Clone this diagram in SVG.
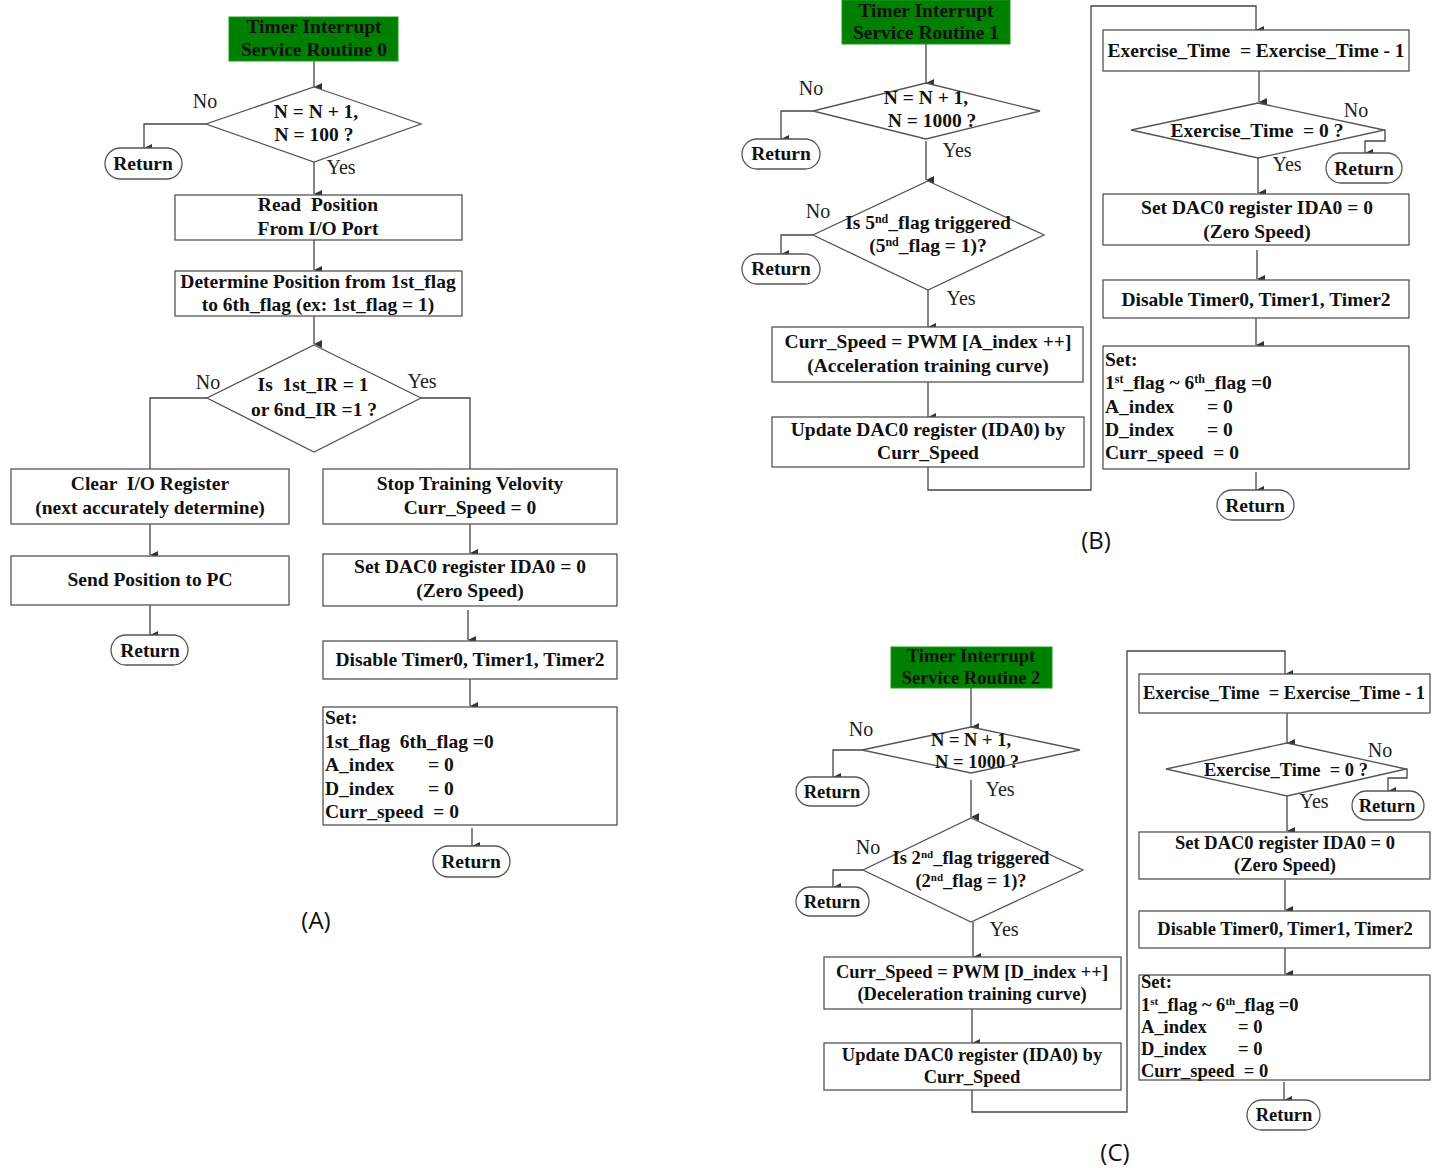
<svg xmlns="http://www.w3.org/2000/svg" width="1437" height="1168" viewBox="0 0 1437 1168">
<style>
.t{font-family:"Liberation Serif",serif;font-weight:bold;fill:#111;text-anchor:middle;font-size:19.5px;white-space:pre}
.c{font-size:18.5px}
.lt{text-anchor:start}
.n{font-family:"Liberation Serif",serif;font-weight:normal;fill:#222;font-size:20px;text-anchor:middle}
.cap{font-family:"Open Sans","Liberation Sans",sans-serif;font-size:24px;fill:#111;text-anchor:middle}
.box{fill:#fff;stroke:#555;stroke-width:1.3}
.grn{fill:#008000;stroke:#1a9a1a;stroke-width:1}
.ln{fill:none;stroke:#444;stroke-width:1.3}
.ar{fill:none;stroke:#444;stroke-width:1.3;marker-end:url(#ah)}
</style>
<defs>
<marker id="ah" markerUnits="userSpaceOnUse" markerWidth="8" markerHeight="8" refX="3.5" refY="7" orient="auto-start-reverse" viewBox="0 0 7 7">
<path d="M0,0 L7,0 L3.5,7 Z" fill="#333"/>
</marker>
</defs>
<rect width="1437" height="1168" fill="#fff"/>

<!-- connectors -->
<g id="connectors">
<!-- A -->
<path class="ar" d="M314,61 V87"/>
<path class="ar" d="M206,124 H144 V148"/>
<path class="ar" d="M314,162 V194"/>
<path class="ar" d="M314,240 V270"/>
<path class="ar" d="M314,316 V344"/>
<path class="ln" d="M207,398 H150 V469"/>
<path class="ln" d="M421,398 H470 V469"/>
<path class="ar" d="M150,524 V555"/>
<path class="ar" d="M150,605 V635"/>
<path class="ar" d="M470,524 V553"/>
<path class="ar" d="M468,610 V640"/>
<path class="ar" d="M470,679 V706"/>
<path class="ar" d="M472,828 V846"/>
<!-- B -->
<path class="ar" d="M926,44 V83"/>
<path class="ar" d="M813,111 H781 V139"/>
<path class="ar" d="M926,141 V180"/>
<path class="ar" d="M813,235 H781 V254"/>
<path class="ar" d="M928,290 V327"/>
<path class="ar" d="M928,382 V417"/>
<path class="ar" d="M928,467 V490 H1091 V6 H1256 V30"/>
<path class="ar" d="M1259,71 V102"/>
<path class="ar" d="M1384,130 H1385 V141 H1365 V153"/>
<path class="ar" d="M1258,158 V193"/>
<path class="ar" d="M1257,250 V279"/>
<path class="ar" d="M1256,318 V345"/>
<path class="ar" d="M1256,472 V490"/>
<!-- C -->
<path class="ar" d="M971,688 V727"/>
<path class="ar" d="M862,750 H833 V777"/>
<path class="ar" d="M971,780 V817"/>
<path class="ar" d="M863,870 H833 V887"/>
<path class="ar" d="M973,922 V957"/>
<path class="ar" d="M972,1009 V1043"/>
<path class="ar" d="M972,1090 V1112 H1127 V651 H1285 V674"/>
<path class="ar" d="M1287,713 V743"/>
<path class="ar" d="M1406,769 H1407 V778 H1388 V791"/>
<path class="ar" d="M1287,796 V831"/>
<path class="ar" d="M1285,880 V910"/>
<path class="ar" d="M1285,948 V974"/>
<path class="ar" d="M1284,1082 V1100"/>
</g>

<!-- Panel A -->
<g id="a-start"><rect class="grn" x="229" y="17" width="169" height="44"/><text class="t" x="314" y="33">Timer Interrupt</text><text class="t" x="314" y="56">Service Routine 0</text></g>
<g id="a-d1"><polygon class="box" points="314,87 421,124 314,162 206,124"/><text class="t" x="316" y="118">N = N + 1,</text><text class="t" x="314" y="141">N = 100 ?</text></g>
<text class="n" x="205" y="108">No</text>
<text class="n" x="341" y="174">Yes</text>
<g id="a-ret1"><rect class="box" x="105" y="148" width="77" height="31" rx="15.5"/><text class="t" x="143" y="170">Return</text></g>
<g id="a-read"><rect class="box" x="175" y="195" width="287" height="45"/><text class="t" x="318" y="211">Read  Position</text><text class="t" x="318" y="235">From I/O Port</text></g>
<g id="a-det"><rect class="box" x="175" y="271" width="287" height="45"/><text class="t" x="318" y="288">Determine Position from 1st_flag</text><text class="t" x="318" y="311">to 6th_flag (ex: 1st_flag = 1)</text></g>
<g id="a-d2"><polygon class="box" points="314,345 421,398 314,452 207,398"/><text class="t" x="313" y="391">Is  1st_IR = 1</text><text class="t" x="314" y="416">or 6nd_IR =1 ?</text></g>
<text class="n" x="208" y="389">No</text>
<text class="n" x="422" y="388">Yes</text>
<g id="a-clear"><rect class="box" x="11" y="469" width="278" height="55"/><text class="t" x="150" y="490">Clear  I/O Register</text><text class="t" x="150" y="514">(next accurately determine)</text></g>
<g id="a-send"><rect class="box" x="11" y="556" width="278" height="49"/><text class="t" x="150" y="586">Send Position to PC</text></g>
<g id="a-ret2"><rect class="box" x="111" y="635" width="77" height="30" rx="15"/><text class="t" x="150" y="657">Return</text></g>
<g id="a-stop"><rect class="box" x="323" y="469" width="294" height="55"/><text class="t" x="470" y="490">Stop Training Velovity</text><text class="t" x="470" y="514">Curr_Speed = 0</text></g>
<g id="a-dac"><rect class="box" x="323" y="554" width="294" height="52"/><text class="t" x="470" y="573">Set DAC0 register IDA0 = 0</text><text class="t" x="470" y="597">(Zero Speed)</text></g>
<g id="a-dis"><rect class="box" x="323" y="641" width="294" height="38"/><text class="t" x="470" y="666">Disable Timer0, Timer1, Timer2</text></g>
<g id="a-set"><rect class="box" x="323" y="707" width="294" height="118"/>
<text class="t lt" x="325" y="724">Set:</text>
<text class="t lt" x="325" y="748">1st_flag  6th_flag =0</text>
<text class="t lt" x="325" y="771">A_index<tspan x="428">= 0</tspan></text>
<text class="t lt" x="325" y="795">D_index<tspan x="428">= 0</tspan></text>
<text class="t lt" x="325" y="818">Curr_speed  = 0</text></g>
<g id="a-ret3"><rect class="box" x="433" y="846" width="77" height="31" rx="15.5"/><text class="t" x="471" y="868">Return</text></g>
<text class="cap" x="316" y="929">(A)</text>

<!-- Panel B -->
<g id="b-start"><rect class="grn" x="842" y="0" width="168" height="44"/><text class="t" x="926" y="17">Timer Interrupt</text><text class="t" x="926" y="39">Service Routine 1</text></g>
<g id="b-d1"><polygon class="box" points="926,83 1040,111 926,139 813,111"/><text class="t" x="926" y="104">N = N + 1,</text><text class="t" x="932" y="127">N = 1000 ?</text></g>
<text class="n" x="811" y="95">No</text>
<text class="n" x="957" y="157">Yes</text>
<g id="b-ret1"><rect class="box" x="742" y="139" width="78" height="30" rx="15"/><text class="t" x="781" y="160">Return</text></g>
<g id="b-d2"><polygon class="box" points="928,181 1044,235 928,290 813,235"/><text class="t" x="928" y="229">Is 5<tspan dy="-6" font-size="12">nd</tspan><tspan dy="6">_flag triggered</tspan></text><text class="t" x="928" y="252">(5<tspan dy="-6" font-size="12">nd</tspan><tspan dy="6">_flag = 1)?</tspan></text></g>
<text class="n" x="818" y="218">No</text>
<text class="n" x="961" y="305">Yes</text>
<g id="b-ret2"><rect class="box" x="742" y="254" width="78" height="30" rx="15"/><text class="t" x="781" y="275">Return</text></g>
<g id="b-curr"><rect class="box" x="772" y="327" width="311" height="55"/><text class="t" x="928" y="348">Curr_Speed = PWM [A_index ++]</text><text class="t" x="928" y="372">(Acceleration training curve)</text></g>
<g id="b-upd"><rect class="box" x="772" y="417" width="312" height="50"/><text class="t" x="928" y="436">Update DAC0 register (IDA0) by</text><text class="t" x="928" y="459">Curr_Speed</text></g>
<g id="b-ex"><rect class="box" x="1103" y="30" width="306" height="41"/><text class="t" x="1256" y="57">Exercise_Time  = Exercise_Time - 1</text></g>
<g id="b-d3"><polygon class="box" points="1258,103 1384,130 1258,158 1131,130"/><text class="t" x="1257" y="137">Exercise_Time  = 0 ?</text></g>
<text class="n" x="1356" y="117">No</text>
<text class="n" x="1287" y="171">Yes</text>
<g id="b-ret3"><rect class="box" x="1326" y="153" width="76" height="30" rx="15"/><text class="t" x="1364" y="175">Return</text></g>
<g id="b-dac"><rect class="box" x="1103" y="194" width="306" height="51"/><text class="t" x="1257" y="214">Set DAC0 register IDA0 = 0</text><text class="t" x="1257" y="238">(Zero Speed)</text></g>
<g id="b-dis"><rect class="box" x="1103" y="280" width="306" height="38"/><text class="t" x="1256" y="306">Disable Timer0, Timer1, Timer2</text></g>
<g id="b-set"><rect class="box" x="1103" y="346" width="306" height="123"/>
<text class="t lt" x="1105" y="366">Set:</text>
<text class="t lt" x="1105" y="389">1<tspan dy="-6" font-size="12">st</tspan><tspan dy="6">_flag ~ 6</tspan><tspan dy="-6" font-size="12">th</tspan><tspan dy="6">_flag =0</tspan></text>
<text class="t lt" x="1105" y="413">A_index<tspan x="1207">= 0</tspan></text>
<text class="t lt" x="1105" y="436">D_index<tspan x="1207">= 0</tspan></text>
<text class="t lt" x="1105" y="459">Curr_speed  = 0</text></g>
<g id="b-ret4"><rect class="box" x="1217" y="490" width="77" height="30" rx="15"/><text class="t" x="1255" y="512">Return</text></g>
<text class="cap" x="1096" y="549">(B)</text>

<!-- Panel C -->
<g id="c-start"><rect class="grn" x="891" y="647" width="161" height="41"/><text class="t c" x="971" y="662">Timer Interrupt</text><text class="t c" x="971" y="684">Service Routine 2</text></g>
<g id="c-d1"><polygon class="box" points="971,727 1080,750 971,773 862,750"/><text class="t c" x="971" y="746">N = N + 1,</text><text class="t c" x="977" y="768">N = 1000 ?</text></g>
<text class="n" x="861" y="736">No</text>
<text class="n" x="1000" y="796">Yes</text>
<g id="c-ret1"><rect class="box" x="796" y="777" width="73" height="29" rx="14.5"/><text class="t c" x="832" y="798">Return</text></g>
<g id="c-d2"><polygon class="box" points="971,818 1083,870 971,922 863,870"/><text class="t c" x="971" y="864">Is 2<tspan dy="-6" font-size="11">nd</tspan><tspan dy="6">_flag triggered</tspan></text><text class="t c" x="971" y="887">(2<tspan dy="-6" font-size="11">nd</tspan><tspan dy="6">_flag = 1)?</tspan></text></g>
<text class="n" x="868" y="854">No</text>
<text class="n" x="1004" y="936">Yes</text>
<g id="c-ret2"><rect class="box" x="796" y="887" width="73" height="29" rx="14.5"/><text class="t c" x="832" y="908">Return</text></g>
<g id="c-curr"><rect class="box" x="824" y="957" width="297" height="52"/><text class="t c" x="972" y="978">Curr_Speed = PWM [D_index ++]</text><text class="t c" x="972" y="1000">(Deceleration training curve)</text></g>
<g id="c-upd"><rect class="box" x="824" y="1043" width="297" height="47"/><text class="t c" x="972" y="1061">Update DAC0 register (IDA0) by</text><text class="t c" x="972" y="1083">Curr_Speed</text></g>
<g id="c-ex"><rect class="box" x="1139" y="674" width="291" height="39"/><text class="t c" x="1284" y="699">Exercise_Time  = Exercise_Time - 1</text></g>
<g id="c-d3"><polygon class="box" points="1287,743 1406,769 1287,796 1166,769"/><text class="t c" x="1286" y="776">Exercise_Time  = 0 ?</text></g>
<text class="n" x="1380" y="757">No</text>
<text class="n" x="1314" y="808">Yes</text>
<g id="c-ret3"><rect class="box" x="1352" y="791" width="72" height="29" rx="14.5"/><text class="t c" x="1387" y="812">Return</text></g>
<g id="c-dac"><rect class="box" x="1139" y="832" width="291" height="47"/><text class="t c" x="1285" y="849">Set DAC0 register IDA0 = 0</text><text class="t c" x="1285" y="871">(Zero Speed)</text></g>
<g id="c-dis"><rect class="box" x="1139" y="911" width="291" height="37"/><text class="t c" x="1285" y="935">Disable Timer0, Timer1, Timer2</text></g>
<g id="c-set"><rect class="box" x="1139" y="975" width="291" height="105"/>
<text class="t c lt" x="1141" y="988">Set:</text>
<text class="t c lt" x="1141" y="1011">1<tspan dy="-6" font-size="11">st</tspan><tspan dy="6">_flag ~ 6</tspan><tspan dy="-6" font-size="11">th</tspan><tspan dy="6">_flag =0</tspan></text>
<text class="t c lt" x="1141" y="1033">A_index<tspan x="1238">= 0</tspan></text>
<text class="t c lt" x="1141" y="1055">D_index<tspan x="1238">= 0</tspan></text>
<text class="t c lt" x="1141" y="1077">Curr_speed  = 0</text></g>
<g id="c-ret4"><rect class="box" x="1247" y="1100" width="73" height="30" rx="15"/><text class="t c" x="1284" y="1121">Return</text></g>
<text class="cap" x="1115" y="1161">(C)</text>
</svg>
